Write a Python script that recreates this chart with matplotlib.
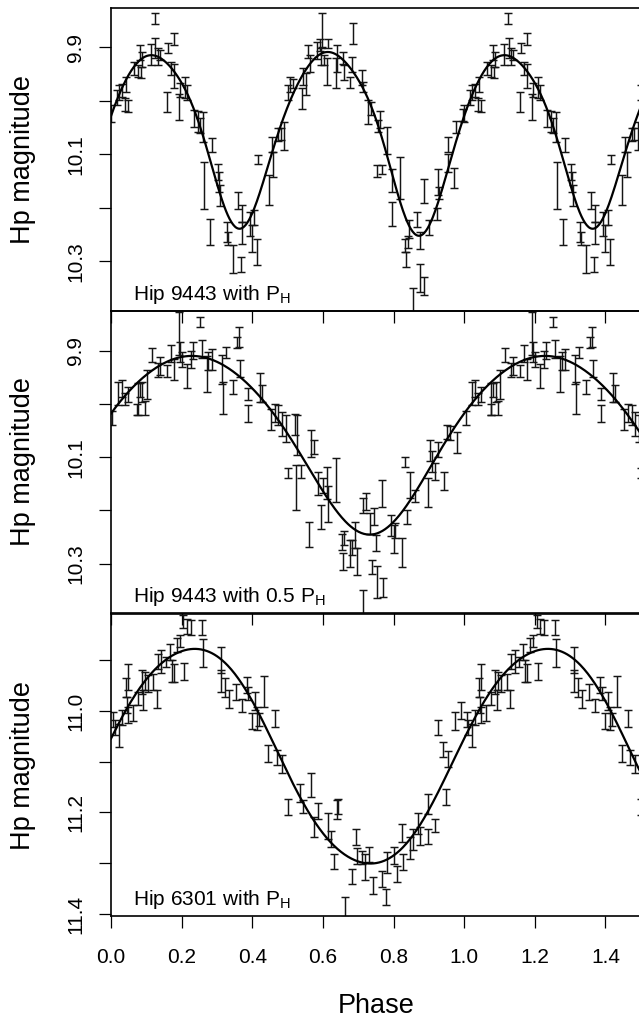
import numpy as np
import matplotlib
matplotlib.use('Agg')
import matplotlib.pyplot as plt

plt.rcParams['font.family'] = ['Liberation Sans', 'DejaVu Sans']
plt.rcParams['mathtext.fontset'] = 'custom'
plt.rcParams['mathtext.rm'] = 'Liberation Sans'

# ---- Hip 9443 folded with P_H : (phase, Hp mag, error) ----
p1_phase = [0.000, 0.016, 0.023, 0.030, 0.042, 0.040, 0.047, 0.066, 0.076, 0.082, 0.087, 0.085,
            0.113, 0.125, 0.126, 0.132, 0.139, 0.160, 0.177, 0.170, 0.158, 0.177, 0.195, 0.193,
            0.210, 0.214, 0.236, 0.245, 0.252, 0.261, 0.287, 0.262, 0.304, 0.309, 0.306, 0.280,
            0.328, 0.330, 0.346, 0.359, 0.368, 0.370, 0.372, 0.394, 0.406, 0.398, 0.413, 0.415,
            0.447, 0.455, 0.460, 0.474, 0.481, 0.491, 0.500,
            0.507, 0.514, 0.540, 0.545, 0.551, 0.557, 0.564, 0.583, 0.592, 0.597, 0.595, 0.604,
            0.611, 0.615, 0.639, 0.636, 0.658, 0.661, 0.677, 0.682, 0.684, 0.712, 0.715, 0.729,
            0.736, 0.757, 0.762, 0.781, 0.752, 0.768, 0.795, 0.797, 0.818, 0.833, 0.835, 0.840,
            0.844, 0.856, 0.866, 0.875, 0.885, 0.875, 0.885, 0.901, 0.922, 0.925, 0.929, 0.954,
            0.955, 0.972, 0.976, 0.998]
p1_mag = [10.024, 9.994, 9.985, 9.981, 9.969, 10.008, 10.010, 9.940, 9.945, 9.910, 9.923, 9.947,
          9.914, 9.847, 9.902, 9.918, 9.915, 9.902, 9.885, 9.940, 10.002, 9.954, 9.981, 10.012,
          9.976, 9.985, 10.033, 10.039, 10.047, 10.049, 10.083, 10.158, 10.134, 10.177, 10.152, 10.246,
          10.246, 10.258, 10.296, 10.186, 10.306, 10.211, 10.247, 10.230, 10.219, 10.258, 10.283, 10.110,
          10.167, 10.082, 10.119, 10.064, 10.063, 10.066, 9.985,
          9.969, 9.968, 9.996, 9.955, 9.969, 9.909, 9.930, 9.906, 9.896, 9.868, 9.918, 9.924,
          9.946, 9.893, 9.921, 9.949, 9.920, 9.948, 9.966, 9.932, 9.875, 9.957, 9.974, 10.021,
          10.015, 10.047, 10.036, 10.074, 10.131, 10.129, 10.149, 10.212, 10.144, 10.270, 10.297, 10.264,
          10.240, 10.380, 10.222, 10.331, 10.346, 10.261, 10.169, 10.237, 10.212, 10.152, 10.172, 10.082,
          10.116, 10.145, 10.050, 10.027]
p1_err = [0.016, 0.014, 0.014, 0.012, 0.014, 0.012, 0.012, 0.012, 0.011, 0.014, 0.014, 0.010,
          0.019, 0.010, 0.019, 0.016, 0.009, 0.009, 0.011, 0.013, 0.019, 0.023, 0.013, 0.025,
          0.020, 0.014, 0.016, 0.019, 0.014, 0.028, 0.013, 0.044, 0.015, 0.019, 0.019, 0.024,
          0.019, 0.012, 0.026, 0.016, 0.014, 0.016, 0.020, 0.022, 0.014, 0.025, 0.025, 0.009,
          0.028, 0.014, 0.023, 0.012, 0.011, 0.026, 0.014,
          0.014, 0.009, 0.019, 0.016, 0.020, 0.012, 0.016, 0.016, 0.012, 0.031, 0.016, 0.009,
          0.025, 0.009, 0.025, 0.028, 0.011, 0.014, 0.011, 0.014, 0.020, 0.014, 0.009, 0.022,
          0.012, 0.011, 0.016, 0.025, 0.011, 0.009, 0.022, 0.023, 0.039, 0.012, 0.014, 0.012,
          0.017, 0.030, 0.014, 0.026, 0.017, 0.016, 0.023, 0.014, 0.011, 0.025, 0.011, 0.014,
          0.017, 0.019, 0.011, 0.012]
# fitted light curve
p1_fit_phase = [0.000, 0.030, 0.068, 0.125, 0.172, 0.210, 0.238, 0.266, 0.295, 0.323, 0.342, 0.365,
                0.398, 0.427, 0.455, 0.474, 0.507, 0.521, 0.549, 0.587, 0.625, 0.663, 0.700, 0.729,
                0.757, 0.785, 0.814, 0.837, 0.856, 0.870, 0.889, 0.908, 0.927, 0.955, 0.984]
p1_fit_mag = [10.027, 9.971, 9.937, 9.918, 9.937, 9.978, 10.027, 10.077, 10.139, 10.202, 10.230, 10.244,
              10.208, 10.158, 10.102, 10.064, 9.997, 9.980, 9.943, 9.918, 9.912, 9.925, 9.958, 10.002,
              10.052, 10.108, 10.170, 10.227, 10.251, 10.256, 10.245, 10.220, 10.183, 10.127, 10.071]

# ---- Hip 9443 folded with 0.5 P_H ----
p2_phase = [0.004, 0.021, 0.032, 0.040, 0.049, 0.077, 0.075, 0.082, 0.095, 0.089, 0.101, 0.115,
            0.134, 0.139, 0.158, 0.170, 0.177, 0.193, 0.195, 0.202, 0.214, 0.227, 0.233, 0.252,
            0.257, 0.271, 0.276, 0.287, 0.318, 0.313, 0.325, 0.346, 0.356, 0.363, 0.365, 0.387,
            0.387, 0.422, 0.427, 0.453, 0.464, 0.474, 0.483, 0.500,
            0.495, 0.521, 0.526, 0.523, 0.538, 0.561, 0.566, 0.576, 0.587, 0.595, 0.601, 0.611,
            0.615, 0.636, 0.655, 0.658, 0.661, 0.677, 0.682, 0.691, 0.696, 0.715, 0.715, 0.721,
            0.734, 0.740, 0.746, 0.750, 0.752, 0.771, 0.768, 0.793, 0.800, 0.804, 0.823, 0.833,
            0.837, 0.847, 0.861, 0.897, 0.903, 0.908, 0.918, 0.925, 0.944, 0.951, 0.960, 0.979]
p2_mag = [10.027, 9.980, 9.971, 9.991, 9.982, 9.991, 10.010, 9.974, 10.008, 9.977, 9.963, 9.907,
          9.936, 9.928, 9.938, 9.905, 9.935, 9.867, 9.902, 9.916, 9.947, 9.917, 9.899, 9.846,
          9.897, 9.943, 9.919, 9.916, 9.988, 9.935, 9.903, 9.968, 9.884, 9.874, 9.933, 9.981,
          10.018, 9.969, 9.980, 10.029, 10.016, 10.021, 10.038, 10.130,
          10.046, 10.038, 10.058, 10.157, 10.127, 10.245, 10.074, 10.081, 10.149, 10.212, 10.154, 10.148,
          10.188, 10.143, 10.260, 10.296, 10.252, 10.281, 10.270, 10.246, 10.296, 10.191, 10.380, 10.184,
          10.225, 10.306, 10.212, 10.261, 10.335, 10.345, 10.168, 10.229, 10.254, 10.238, 10.279, 10.109,
          10.212, 10.152, 10.173, 10.166, 10.088, 10.108, 10.127, 10.085, 10.144, 10.052, 10.055, 10.072]
p2_err = [0.013, 0.022, 0.016, 0.011, 0.014, 0.030, 0.011, 0.013, 0.013, 0.019, 0.027, 0.013,
          0.013, 0.017, 0.011, 0.016, 0.020, 0.041, 0.019, 0.014, 0.023, 0.016, 0.016, 0.010,
          0.017, 0.034, 0.017, 0.020, 0.030, 0.027, 0.011, 0.013, 0.010, 0.019, 0.016, 0.012,
          0.016, 0.027, 0.016, 0.020, 0.017, 0.019, 0.023, 0.009,
          0.025, 0.020, 0.038, 0.042, 0.013, 0.024, 0.025, 0.013, 0.022, 0.023, 0.014, 0.030,
          0.033, 0.041, 0.015, 0.016, 0.013, 0.025, 0.014, 0.025, 0.025, 0.014, 0.030, 0.016,
          0.020, 0.013, 0.016, 0.015, 0.030, 0.017, 0.025, 0.020, 0.027, 0.014, 0.027, 0.010,
          0.013, 0.025, 0.011, 0.027, 0.020, 0.019, 0.016, 0.014, 0.017, 0.013, 0.013, 0.020]
p2_fit_phase = [0.000, 0.030, 0.077, 0.125, 0.172, 0.219, 0.266, 0.313, 0.361, 0.408, 0.455, 0.493,
                0.540, 0.587, 0.634, 0.682, 0.729, 0.752, 0.776, 0.823, 0.870, 0.918, 0.965]
p2_fit_mag = [10.024, 9.996, 9.955, 9.930, 9.918, 9.911, 9.913, 9.924, 9.946, 9.977, 10.015, 10.043,
              10.102, 10.152, 10.196, 10.227, 10.246, 10.247, 10.237, 10.202, 10.158, 10.102, 10.046]

# ---- Hip 6301 folded with P_H ----
p3_phase = [0.007, 0.011, 0.023, 0.030, 0.047, 0.042, 0.049, 0.045, 0.063, 0.077, 0.087, 0.092,
            0.096, 0.104, 0.120, 0.129, 0.134, 0.143, 0.155, 0.167, 0.172, 0.177, 0.186, 0.195,
            0.205, 0.208, 0.214, 0.227, 0.257, 0.261, 0.312, 0.312, 0.323, 0.334, 0.353, 0.370,
            0.384, 0.389, 0.398, 0.408, 0.413, 0.419, 0.434, 0.463, 0.446, 0.469, 0.483, 0.500,
            0.535, 0.545, 0.566, 0.576, 0.587, 0.615, 0.623, 0.632, 0.639, 0.644, 0.663, 0.682,
            0.693, 0.696, 0.712, 0.719, 0.731, 0.743, 0.768, 0.778, 0.781, 0.800, 0.809, 0.823,
            0.828, 0.847, 0.856, 0.870, 0.875, 0.897, 0.899, 0.918, 0.925, 0.941, 0.948, 0.954,
            0.974, 0.991]
p3_mag = [11.017, 11.033, 11.048, 11.013, 10.933, 10.954, 11.008, 10.989, 11.004, 10.976, 10.943, 10.979,
          10.941, 10.946, 10.943, 10.977, 10.902, 10.903, 10.903, 10.884, 10.921, 10.925, 10.870, 10.862,
          10.824, 10.922, 10.833, 10.836, 10.836, 10.886, 10.900, 10.941, 10.954, 10.977, 10.962, 10.989,
          10.949, 10.966, 11.020, 10.981, 11.015, 11.017, 10.962, 11.015, 11.084, 11.092, 11.105, 11.189,
          11.161, 11.189, 11.146, 11.229, 11.197, 11.227, 11.252, 11.296, 11.194, 11.188, 11.386, 11.326,
          11.248, 11.286, 11.288, 11.308, 11.283, 11.344, 11.331, 11.367, 11.299, 11.285, 11.321, 11.240,
          11.298, 11.270, 11.253, 11.222, 11.247, 11.183, 11.247, 11.225, 11.033, 11.076, 11.170, 11.094,
          11.020, 10.999]
p3_err = [0.015, 0.015, 0.023, 0.015, 0.026, 0.018, 0.016, 0.016, 0.015, 0.013, 0.023, 0.020,
          0.018, 0.016, 0.016, 0.018, 0.015, 0.023, 0.010, 0.016, 0.021, 0.018, 0.013, 0.012,
          0.013, 0.017, 0.015, 0.015, 0.015, 0.027, 0.026, 0.021, 0.018, 0.018, 0.016, 0.013,
          0.016, 0.013, 0.015, 0.018, 0.023, 0.012, 0.030, 0.016, 0.016, 0.015, 0.018, 0.016,
          0.018, 0.013, 0.024, 0.020, 0.015, 0.025, 0.016, 0.015, 0.018, 0.015, 0.020, 0.015,
          0.016, 0.015, 0.013, 0.026, 0.015, 0.016, 0.016, 0.016, 0.021, 0.016, 0.016, 0.018,
          0.016, 0.021, 0.021, 0.020, 0.018, 0.020, 0.015, 0.013, 0.015, 0.015, 0.016, 0.016,
          0.018, 0.016]
p3_fit_phase = [0.000, 0.030, 0.077, 0.125, 0.172, 0.219, 0.238, 0.266, 0.313, 0.361, 0.408, 0.455,
                0.493, 0.540, 0.587, 0.634, 0.682, 0.729, 0.776, 0.823, 0.870, 0.918, 0.965]
p3_fit_mag = [11.051, 11.005, 10.962, 10.923, 10.893, 10.877, 10.875, 10.879, 10.900, 10.939, 10.992, 11.055,
              11.110, 11.176, 11.229, 11.268, 11.291, 11.302, 11.294, 11.268, 11.229, 11.176, 11.110]

titles = ['Hip 9443 with P$_\\mathrm{H}$', 'Hip 9443 with 0.5 P$_\\mathrm{H}$', 'Hip 6301 with P$_\\mathrm{H}$']
x_ticks = [0.0, 0.2, 0.4, 0.6, 0.8, 1.0, 1.2, 1.4]


def smooth_curve(ph, mag, nharm, x):
    # periodic Fourier series through the points
    ph = np.asarray(ph)
    def design(p):
        cols = [np.ones_like(p)]
        for k in range(1, nharm + 1):
            cols.append(np.cos(2 * np.pi * k * p))
            cols.append(np.sin(2 * np.pi * k * p))
        return np.column_stack(cols)
    coef, *_ = np.linalg.lstsq(design(ph), np.asarray(mag), rcond=None)
    return design(x) @ coef


panels = [
    dict(ph=p1_phase, mag=p1_mag, err=p1_err, fph=p1_fit_phase, fmag=p1_fit_mag, nh=6,
         ylim=(10.393, 9.827), yticks=[9.9, 10.0, 10.1, 10.2, 10.3], ylab=['9.9', '', '10.1', '', '10.3'],
         box=(8, 311)),
    dict(ph=p2_phase, mag=p2_mag, err=p2_err, fph=p2_fit_phase, fmag=p2_fit_mag, nh=3,
         ylim=(10.393, 9.825), yticks=[9.9, 10.0, 10.1, 10.2, 10.3], ylab=['9.9', '', '10.1', '', '10.3'],
         box=(311, 613)),
    dict(ph=p3_phase, mag=p3_mag, err=p3_err, fph=p3_fit_phase, fmag=p3_fit_mag, nh=3,
         ylim=(11.404, 10.809), yticks=[10.9, 11.0, 11.1, 11.2, 11.3, 11.4],
         ylab=['', '11.0', '', '11.2', '', '11.4'], box=(614, 916)),
]

W, H = 639, 1018
fig = plt.figure(figsize=(W / 100, H / 100), dpi=100)
left_px, right_px = 111, 640.7

xs = np.linspace(0, 1.5, 600)
for i, p in enumerate(panels):
    top, bot = p['box']
    ax = fig.add_axes([left_px / W, 1 - bot / H, (right_px - left_px) / W, (bot - top) / H])
    ax.set_facecolor('none')

    ph = np.array(p['ph'])
    mag = np.array(p['mag'])
    err = np.array(p['err'])
    rep = ph <= 0.51
    ph_all = np.concatenate([ph, ph[rep] + 1])
    mag_all = np.concatenate([mag, mag[rep]])
    err_all = np.concatenate([err, err[rep]])

    ax.errorbar(ph_all, mag_all, yerr=err_all, fmt='none', ecolor='#151515',
                elinewidth=1.05, capsize=2.6, capthick=1.05)
    ax.plot(xs, smooth_curve(p['fph'], p['fmag'], p['nh'], xs % 1.0), color='black', lw=1.6)

    ax.set_xlim(0, 1.5)
    ax.set_ylim(*p['ylim'])
    ax.set_xticks(x_ticks)
    ax.set_yticks(p['yticks'])
    ax.set_yticklabels(p['ylab'], rotation=90, va='center')
    if i == 2:
        ax.set_xticklabels(['%.1f' % t for t in x_ticks])
    else:
        ax.set_xticklabels([])
    ax.tick_params(direction='out', length=8.6, width=0.9, labelsize=15, colors='black')
    ax.tick_params(axis='x', pad=14.5)
    ax.tick_params(axis='y', pad=10)
    for s in ax.spines.values():
        s.set_linewidth(1.2)

    ax.text(0.041, 0.036, titles[i], transform=ax.transAxes, fontsize=15, va='baseline', ha='left')
    fig.text(23 / W, 1 - (top + bot) / 2 / H, 'Hp magnitude', rotation=90, fontsize=19.5,
             ha='center', va='center')

fig.text(375.8 / W, 1 - 1013 / H, 'Phase', fontsize=19.5, ha='center', va='baseline')

fig.savefig('out.png', dpi=100)
